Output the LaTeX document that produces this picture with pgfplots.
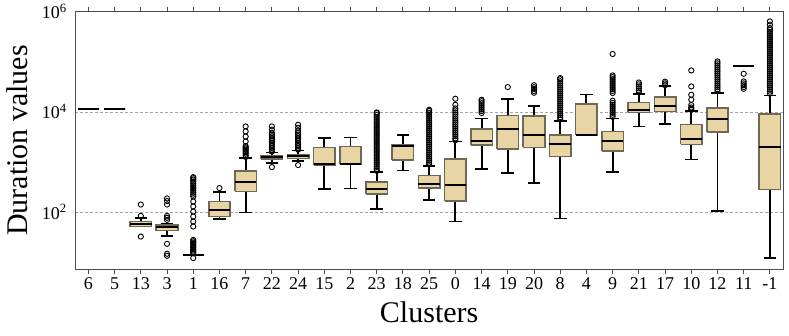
\documentclass[border=0pt]{standalone}
\usepackage{fontspec}
\setmainfont{Liberation Serif}
\usepackage{pgfplots}
\usepackage{pgfplotstable}
\pgfplotsset{compat=1.18}

\definecolor{boxfill}{RGB}{232,213,163}
\definecolor{boxedge}{RGB}{112,104,86}

% box summaries, one row per cluster in plotting order
\pgfplotstableread{
pos lw q1 med q3 uw
0 11480 11480 11480 11480 11480
1 11480 11480 11480 11480 11480
2 50.8 50.8 57.5 64 74.8
3 33 42.3 50.8 54.2 57.5
4 13.4 13.4 13.4 13.4 13.4
5 71.4 80.5 110 161 248
6 97 255 386 661 1202
7 942 1132 1219 1318 1535
8 1047 1164 1300 1400 1683
9 284 859 883 1932 3020
10 292 899 912 2023 3062
11 113 229 292 398 631
12 670 1096 2023 2188 3467
13 174 298 368 532 832
14 64 166 347 1148 2547
15 724 2188 2547 4571 7345
16 603 1795 4426 8433 17950
17 375 1932 3357 8318 13000
18 73.5 1276 2218 3420 6516
19 3420 3420 3420 14260 22180
20 622 1660 2630 4036 7345
21 5080 9680 10965 15350 22590
22 5675 10140 12760 19680 32060
23 1112 2218 2793 5572 10470
24 106 3981 7244 11850 23660
25 80540 80540 80540 80540 80540
26 12 279 1968 8995 21180
}\boxdata

% outliers
\pgfplotstableread[row sep=\\]{
pos val\\
2 140\\ 2 83\\ 2 32\\
3 185\\ 3 164\\ 3 140\\ 3 83\\ 3 76\\ 3 69\\ 3 22.9\\ 3 14.5\\ 3 13.2\\
4 11.9\\ 4 14.9\\ 4 15.8\\ 4 16.8\\ 4 17.8\\ 4 19\\ 4 20.2\\ 4 21.5\\ 4 22.9\\ 4 24.3\\ 4 25.8\\ 4 27.5\\
4 50.8\\ 4 64\\ 4 80.5\\ 4 101\\ 4 128\\ 4 161\\ 4 202\\ 4 220\\ 4 240\\ 4 262\\ 4 286\\ 4 312\\
4 340\\ 4 371\\ 4 405\\ 4 440\\ 4 470\\ 4 494\\
5 298\\
6 1250\\ 6 1350\\ 6 1450\\ 6 1550\\ 6 1650\\ 6 1750\\ 6 1850\\ 6 1950\\ 6 2050\\ 6 2550\\ 6 3200\\ 6 4050\\ 6 5100\\
7 783\\ 7 1600\\ 7 1750\\ 7 1900\\ 7 2050\\ 7 2200\\ 7 2400\\ 7 2600\\ 7 2800\\ 7 3000\\ 7 3250\\ 7 3500\\ 7 3800\\ 7 4400\\ 7 5100\\
8 860\\ 8 1750\\ 8 1900\\ 8 2050\\ 8 2200\\ 8 2400\\ 8 2600\\ 8 2800\\ 8 3000\\ 8 3250\\ 8 3500\\ 8 3800\\ 8 4200\\ 8 4800\\ 8 5500\\
11 660\\ 11 720\\ 11 790\\ 11 870\\ 11 950\\ 11 1040\\ 11 1140\\ 11 1250\\ 11 1370\\ 11 1500\\ 11 1650\\ 11 1800\\
11 1980\\ 11 2170\\ 11 2380\\ 11 2600\\ 11 2850\\ 11 3130\\ 11 3430\\ 11 3760\\ 11 4120\\ 11 4520\\ 11 4950\\
11 5430\\ 11 5950\\ 11 6520\\ 11 7150\\ 11 7840\\ 11 8600\\ 11 9400\\ 11 9700\\
13 880\\ 13 960\\ 13 1050\\ 13 1150\\ 13 1260\\ 13 1380\\ 13 1510\\ 13 1660\\ 13 1820\\ 13 2000\\ 13 2190\\ 13 2400\\
13 2630\\ 13 2880\\ 13 3160\\ 13 3460\\ 13 3800\\ 13 4160\\ 13 4560\\ 13 5000\\ 13 5480\\ 13 6010\\ 13 6590\\
13 7220\\ 13 7920\\ 13 8680\\ 13 9500\\ 13 10400\\ 13 10965\\
14 2700\\ 14 2950\\ 14 3250\\ 14 3560\\ 14 3900\\ 14 4270\\ 14 4680\\ 14 5130\\ 14 5620\\ 14 6160\\ 14 6750\\
14 7400\\ 14 8100\\ 14 8880\\ 14 9730\\ 14 10660\\ 14 11700\\ 14 13800\\ 14 18200\\
15 9400\\ 15 10300\\ 15 11300\\ 15 12400\\ 15 13600\\ 15 14900\\ 15 16300\\ 15 17400\\
16 31190\\
17 24000\\ 17 26000\\ 17 28500\\ 17 31000\\ 17 34000\\
18 7100\\ 18 7780\\ 18 8530\\ 18 9350\\ 18 10250\\ 18 11240\\ 18 12320\\ 18 13500\\ 18 14800\\ 18 16230\\ 18 17790\\
18 19500\\ 18 21380\\ 18 23440\\ 18 25700\\ 18 28170\\ 18 30880\\ 18 33850\\ 18 37110\\ 18 40680\\ 18 44600\\ 18 47200\\
20 7900\\ 20 8700\\ 20 9500\\ 20 10400\\ 20 11400\\ 20 12500\\ 20 13700\\ 20 15000\\ 20 16600\\
20 23700\\ 20 26000\\ 20 28500\\ 20 31200\\ 20 34200\\ 20 37500\\ 20 41100\\ 20 45000\\ 20 49300\\ 20 53200\\ 20 142600\\
21 24500\\ 21 26800\\ 21 29400\\ 21 32200\\ 21 35300\\ 21 38500\\
22 34000\\ 22 37000\\ 22 40000\\
23 10900\\ 23 11480\\ 23 12200\\ 23 13600\\ 23 17380\\ 23 21880\\ 23 32060\\ 23 67000\\
24 25700\\ 24 28200\\ 24 30900\\ 24 33900\\ 24 37100\\ 24 40700\\ 24 44600\\ 24 48900\\ 24 53600\\ 24 58700\\
24 64400\\ 24 70600\\ 24 77400\\ 24 84800\\ 24 93000\\ 24 101400\\
25 57500\\ 25 40400\\ 25 37000\\ 25 34000\\ 25 31300\\ 25 28800\\
26 23000\\ 26 25200\\ 26 27600\\ 26 30300\\ 26 33200\\ 26 36400\\ 26 39900\\ 26 43700\\ 26 47900\\ 26 52500\\
26 57500\\ 26 63100\\ 26 69200\\ 26 75800\\ 26 83100\\ 26 91100\\ 26 99900\\ 26 109500\\ 26 120000\\ 26 131500\\
26 144100\\ 26 158000\\ 26 173200\\ 26 189800\\ 26 208100\\ 26 228000\\ 26 250000\\ 26 274000\\ 26 300400\\
26 329300\\ 26 360900\\ 26 395600\\ 26 433600\\ 26 472000\\ 26 550000\\ 26 640000\\
}\outliers

\begin{document}
\begin{tikzpicture}
\begin{axis}[
    name=ax,
    scale only axis,
    width=707.7pt, height=257.6pt,
    ymode=log,
    ymin=7.1, ymax=1000000,
    xmin=-0.5, xmax=26.5,
    xtick={0,...,26},
    xticklabels={6,5,13,3,1,16,7,22,24,15,2,23,18,25,0,14,19,20,8,4,9,21,17,10,12,11,-1},
    ytick={100,10000,1000000},
    yticklabels={10\textsuperscript{2},10\textsuperscript{4},10\textsuperscript{6}},
    yminorticks=false,
    ymajorgrids=true,
    grid style={densely dashed, gray!70, line width=0.5pt},
    axis line style={black!70, line width=1pt},
    tick align=outside,
    major tick length=5pt,
    xtick style={black!70, line width=1pt},
    ytick style={draw=none},
    tick label style={font=\fontsize{18}{20}\selectfont, black},
    xlabel={Clusters},
    ylabel={Duration values},
    label style={font=\fontsize{30}{32}\selectfont},
    xlabel style={at={(axis description cs:0.5,-0.166)}, anchor=center},
    ylabel style={at={(axis description cs:-0.0817,0.5)}, anchor=center},
    whisk/.style={draw=black, line width=1.9pt, mark=none},
    boxst/.style={draw=boxedge, fill=boxfill, line width=1.6pt, mark=none},
    medst/.style={draw=black, line width=2pt, mark=none},
]
\pgfplotsinvokeforeach{0,...,26}{
  \pgfplotstablegetelem{#1}{lw}\of\boxdata \let\vlw\pgfplotsretval
  \pgfplotstablegetelem{#1}{q1}\of\boxdata \let\vqa\pgfplotsretval
  \pgfplotstablegetelem{#1}{med}\of\boxdata \let\vmd\pgfplotsretval
  \pgfplotstablegetelem{#1}{q3}\of\boxdata \let\vqb\pgfplotsretval
  \pgfplotstablegetelem{#1}{uw}\of\boxdata \let\vuw\pgfplotsretval
  \pgfmathsetmacro\bxl{#1-0.41}
  \pgfmathsetmacro\bxr{#1+0.41}
  \pgfmathsetmacro\cpl{#1-0.24}
  \pgfmathsetmacro\cpr{#1+0.24}
  \edef\cmd{%
    \noexpand\addplot[whisk] coordinates {(#1,\vlw) (#1,\vqa)};
    \noexpand\addplot[whisk] coordinates {(#1,\vqb) (#1,\vuw)};
    \noexpand\addplot[whisk] coordinates {(\cpl,\vlw) (\cpr,\vlw)};
    \noexpand\addplot[whisk] coordinates {(\cpl,\vuw) (\cpr,\vuw)};
    \noexpand\addplot[boxst] coordinates {(\bxl,\vqa) (\bxr,\vqa) (\bxr,\vqb) (\bxl,\vqb) (\bxl,\vqa)};
    \noexpand\addplot[medst] coordinates {(\bxl,\vmd) (\bxr,\vmd)};
  }\cmd
}
\addplot[only marks, mark=o, mark size=2.6pt, mark options={draw=black, line width=0.9pt}]
    table[x=pos, y=val] {\outliers};
\end{axis}
\pgfresetboundingbox
\path[use as bounding box] ([xshift=-75.3pt,yshift=-65.7pt]ax.south west)
    rectangle ([xshift=6pt,yshift=11.7pt]ax.north east);
\end{tikzpicture}
\end{document}
